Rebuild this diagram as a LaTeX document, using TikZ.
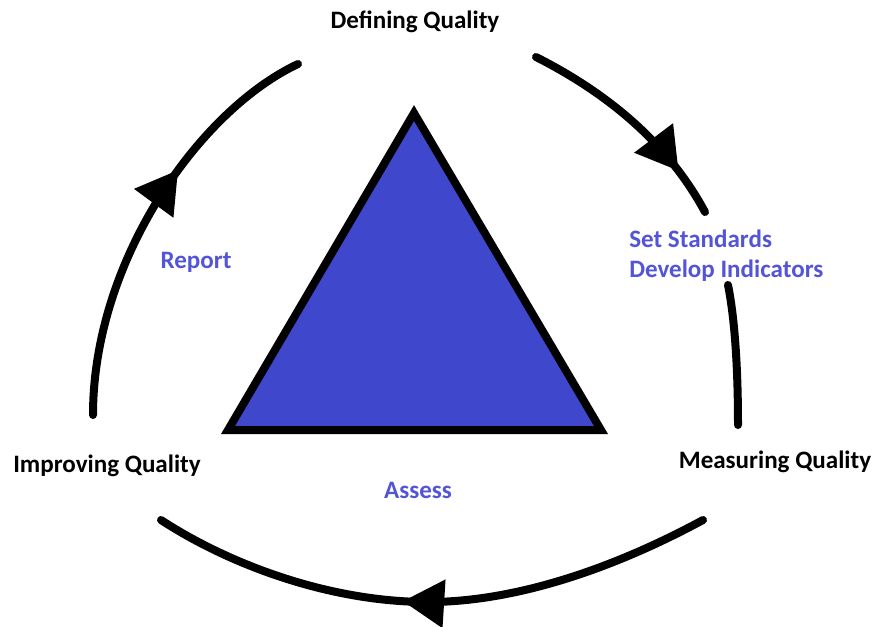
\documentclass[tikz,border=0pt]{standalone}
\usepackage{fontspec}
\setmainfont{Carlito}
\usetikzlibrary{arrows.meta,decorations.markings}
\definecolor{trifill}{RGB}{63,72,204}
\definecolor{labelblue}{RGB}{84,84,214}
\begin{document}
\begin{tikzpicture}[x=0.75pt,y=-0.75pt,
  stage/.style={font=\fontsize{18.8}{22.5}\selectfont\bfseries, text=black, inner sep=0pt},
  task/.style={font=\fontsize{18.8}{22.5}\selectfont\bfseries, text=labelblue, inner sep=0pt},
  ring/.style={line width=6pt, line cap=round},
  headmark/.style={postaction={decorate}, decoration={markings,
      mark=at position #1 with {\arrow{Triangle[length=31pt 0 1,width=35pt 0 1]}}}},
  tri/.style={draw=black, fill=trifill, line width=6pt, line join=miter}
]
\useasboundingbox (0,0) rectangle (875,626);

% labels
\node[stage] (def) at (415,22) {Defining Quality};
\node[stage] (meas) at (775,462) {Measuring Quality};
\node[stage] (imp) at (107,466) {Improving Quality};
\node[task] (report) at (196,262) {Report};
\node[task] (assess) at (418,490) {Assess};
\node[task, align=left, anchor=west] (std) at (629,256) {Set Standards\\Develop Indicators};

% triangle
\coordinate (apex) at (414,113);
\coordinate (bl) at (228,430);
\coordinate (br) at (601,430);
\draw[tri] (apex) -- (bl) -- (br) -- cycle;

% cycle arcs
\coordinate (l0) at (93,415);
\coordinate (l1) at (298,64);
\draw[ring, headmark=0.62] (l0) .. controls (93,260) and (200,110) .. (l1);

\coordinate (r0) at (536,57);
\coordinate (r1) at (705,212);
\draw[ring, headmark=0.79] (r0) .. controls (613,96) and (670,147) .. (r1);
\coordinate (r2) at (728,285);
\coordinate (r3) at (738,425);
\draw[ring] (r2) .. controls (735,320) and (738,370) .. (r3);

\coordinate (b0) at (703,520);
\coordinate (bm) at (428,602);
\coordinate (b1) at (161,520);
\draw[ring, headmark=0.55] (b0) .. controls (620,565) and (520,602) .. (bm)
   .. controls (330,602) and (230,565) .. (b1);
\end{tikzpicture}
\end{document}
